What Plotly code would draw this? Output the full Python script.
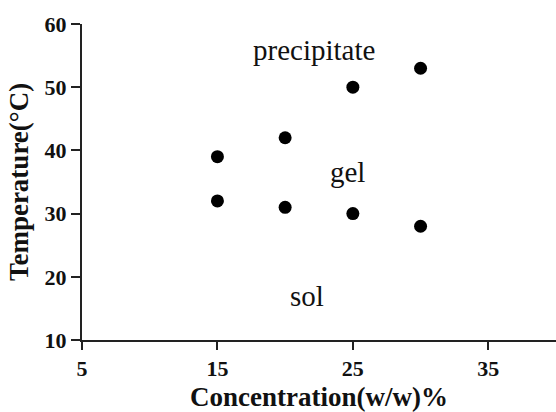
import plotly.graph_objects as go

concentration = [15, 15, 20, 20, 25, 25, 30, 30]
temperature = [39, 32, 42, 31, 50, 30, 53, 28]

x_ticks = [5, 15, 25, 35]
y_ticks = [10, 20, 30, 40, 50, 60]

region_labels = ["precipitate", "gel", "sol"]
region_x = [22.1, 24.6, 21.6]
region_y = [55.9, 36.6, 17.0]

fig = go.Figure()
fig.add_trace(go.Scatter(
    x=concentration, y=temperature, mode="markers",
    marker=dict(color="#000000", size=13),
    showlegend=False, cliponaxis=False,
))

for t, x, y in zip(region_labels, region_x, region_y):
    fig.add_annotation(x=x, y=y, text=t, showarrow=False,
                       xanchor="center", yanchor="middle",
                       font=dict(family="Liberation Serif", size=29, color="#111111"))

axis_font = dict(family="Liberation Serif", size=22, color="#111111")
title_font = dict(family="Liberation Serif", size=27, color="#111111")

fig.update_layout(
    width=556, height=412,
    margin=dict(l=82, r=0, t=24, b=72),
    paper_bgcolor="white", plot_bgcolor="white",
    xaxis=dict(
        range=[5, 40], tickvals=x_ticks, ticktext=[f"<b>{v}</b>" for v in x_ticks],
        showgrid=False, zeroline=False, showline=True, linecolor="#222222", linewidth=2,
        ticks="outside", ticklen=8, tickwidth=2, tickcolor="#222222",
        tickfont=axis_font,
        title=dict(text="<b>Concentration(w/w)%</b>", font=title_font, standoff=8),
    ),
    yaxis=dict(
        range=[10, 60], tickvals=y_ticks, ticktext=[f"<b>{v}</b>" for v in y_ticks],
        showgrid=False, zeroline=False, showline=True, linecolor="#222222", linewidth=2,
        ticks="outside", ticklen=9, tickwidth=2, tickcolor="#222222",
        tickfont=axis_font,
        title=dict(text="<b>Temperature(°C)</b>", font=title_font, standoff=8),
    ),
)

fig.write_html("out.html")
